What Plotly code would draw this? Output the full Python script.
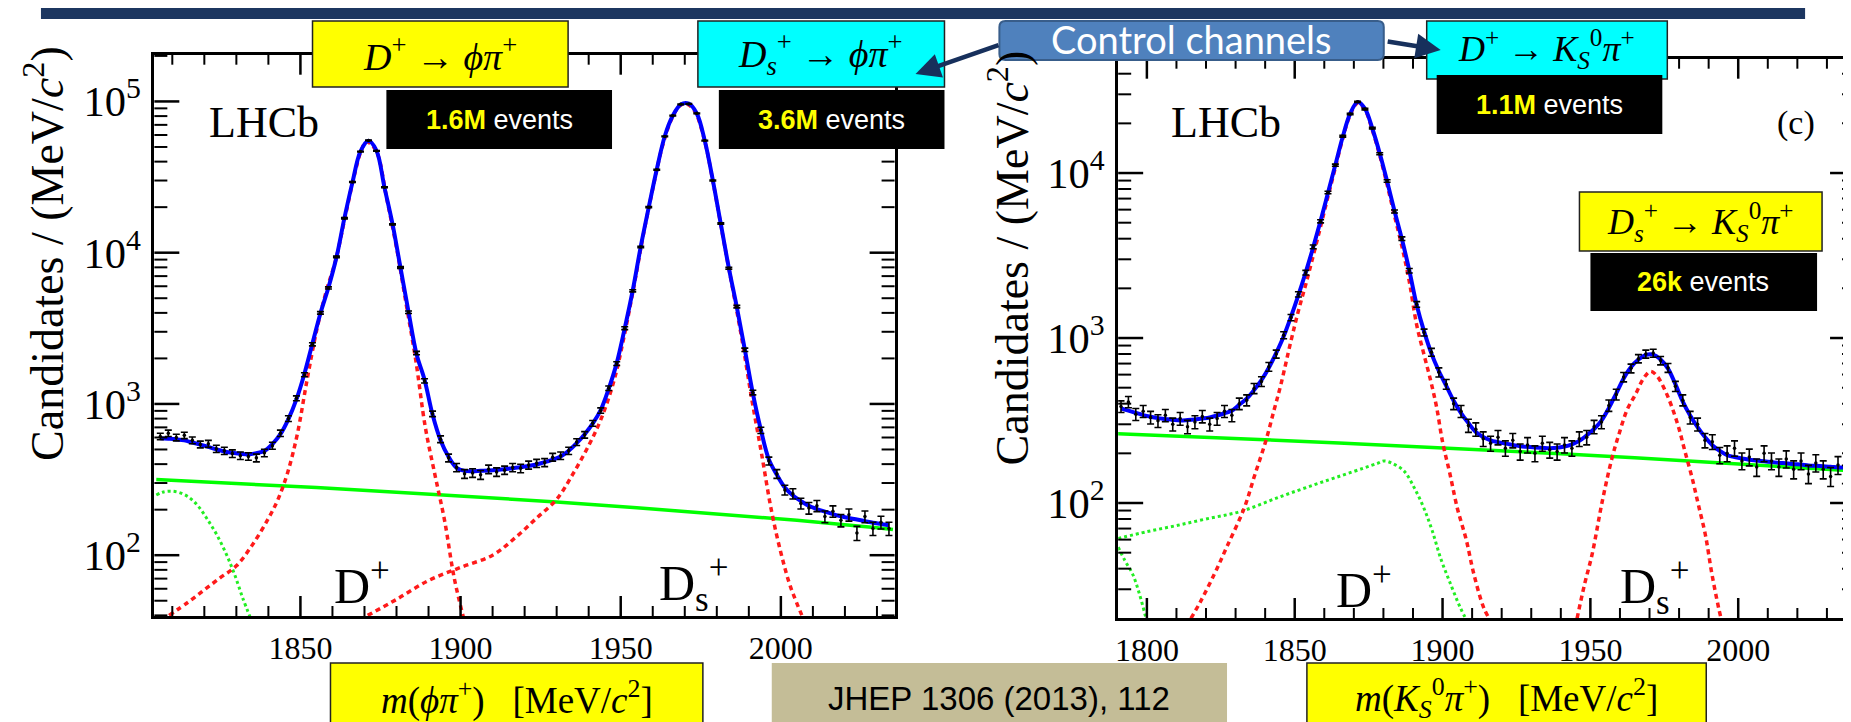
import math
import plotly.graph_objects as go

W, H = 1851, 722

# ---------------- LEFT PANEL : m(phi pi+) ----------------
left_lo, left_bw, left_nbins = 1805.0, 2.5, 92
left_counts = [610, 640, 600, 620, 575, 540, 545, 505, 490, 470,
               455, 450, 440, 475, 530, 640, 800, 1090, 1560, 2480,
               4000, 5850, 9400, 16900, 29300, 46600, 55200, 47100, 27100, 15400,
               7980, 4040, 2170, 1420, 860, 585, 440, 380, 345, 350,
               340, 370, 355, 365, 380, 375, 395, 405, 410, 445,
               455, 490, 560, 625, 745, 905, 1270, 1850, 3170, 5600,
               10900, 20000, 35400, 58700, 80500, 95700, 96300, 83400, 55100, 30000,
               15600, 7900, 4400, 2280, 1190, 670, 420, 345, 270, 255,
               220, 205, 212, 180, 195, 170, 185, 140, 180, 150,
               165, 150]
left_errors = [30, 31, 30, 30, 29, 28, 29, 28, 27, 27,
               26, 26, 26, 27, 28, 31, 35, 40, 48, 61,
               77, 94, 119, 159, 210, 264, 288, 266, 202, 152,
               109, 78, 57, 46, 36, 30, 26, 24, 23, 23,
               23, 24, 23, 23, 24, 24, 24, 25, 25, 26,
               26, 27, 29, 31, 33, 37, 44, 53, 69, 92,
               128, 173, 230, 297, 347, 379, 380, 354, 287, 212,
               153, 109, 81, 58, 42, 32, 25, 23, 20, 20,
               18, 18, 18, 16, 17, 16, 17, 15, 16, 15,
               16, 15]
left_total_fit = [594, 589, 583, 574, 556, 538, 520, 501, 485, 476,
                  468, 463, 473, 489, 543, 631, 794, 1072, 1585, 2512,
                  3981, 5890, 9330, 16980, 29170, 46770, 54950, 47300, 26900, 15490,
                  7940, 4070, 2140, 1445, 851, 575, 447, 378, 361, 359,
                  361, 363, 366, 370, 376, 382, 389, 398, 412, 429,
                  449, 490, 550, 631, 741, 912, 1259, 1862, 3162, 5623,
                  10960, 19950, 35480, 58880, 80350, 95500, 96600, 83180, 54950, 30200,
                  15490, 7940, 4365, 2290, 1175, 676, 430, 340, 280, 248,
                  228, 212, 202, 194, 187, 181, 176, 172, 168, 164,
                  161, 158]
left_comb_m = [1805, 1830, 1855, 1880, 1905, 1930, 1955, 1980, 2005, 2030, 2035]
left_comb_y = [316, 298, 280, 261, 243, 225, 206, 188, 170, 152, 148]
left_part_m = [1805, 1807, 1809.5, 1812, 1815, 1818, 1821, 1824, 1827, 1829.5, 1832, 1834.5]
left_part_y = [250, 261, 265, 260, 243, 212, 172, 135, 100, 74, 52, 38]
left_dp_m = [1809, 1815, 1820, 1825, 1830, 1835, 1840, 1843, 1846, 1849, 1852, 1855,
             1858, 1861, 1864, 1867, 1869, 1870.5, 1872, 1874, 1877, 1880, 1883,
             1886, 1889, 1892, 1895, 1898, 1901]
left_dp_y = [40, 49, 59, 71, 85, 117, 175, 234, 351, 627, 1413, 3020,
             5500, 8900, 17400, 33600, 47500, 54000, 52200, 45400, 22500, 10800, 4600,
             1950, 700, 340, 170, 71, 38]
left_ds_m = [1871, 1880, 1890, 1900, 1910, 1917, 1924, 1930, 1935, 1940, 1944, 1948,
             1951, 1954, 1957, 1960, 1963, 1966, 1968.5, 1970.5, 1973, 1976, 1979,
             1982, 1985, 1988, 1991, 1994, 1997, 2000, 2003, 2007.5]
left_ds_y = [40, 51, 68, 83, 100, 130, 178, 234, 342, 531, 808, 1450,
             2760, 5800, 12900, 26400, 50400, 77400, 93700, 96200, 86900, 57100, 28000,
             12500, 5700, 2560, 1050, 465, 200, 104, 62, 36]

# ---------------- RIGHT PANEL : m(KS pi+) ----------------
right_lo, right_bw, right_nbins = 1790.0, 2.5, 100
right_counts = [385, 410, 345, 360, 330, 315, 340, 300, 325, 290,
                310, 335, 300, 325, 360, 340, 400, 420, 495, 545,
                670, 800, 1040, 1330, 1840, 2490, 3570, 5100, 7620, 11150,
                16700, 22800, 27000, 24400, 18700, 13100, 8950, 5850, 4000, 2560,
                1600, 1080, 820, 620, 525, 400, 360, 295, 280, 245,
                230, 250, 215, 240, 205, 225, 200, 230, 210, 205,
                225, 215, 245, 250, 290, 310, 390, 455, 580, 655,
                750, 800, 810, 730, 660, 510, 420, 330, 300, 240,
                235, 195, 200, 215, 180, 190, 165, 200, 180, 165,
                185, 160, 180, 150, 175, 160, 145, 170, 150, 155]
right_errors = [31, 32, 29, 30, 29, 28, 29, 27, 29, 27,
                28, 29, 27, 29, 30, 29, 32, 32, 35, 37,
                41, 45, 51, 58, 68, 79, 94, 113, 138, 167,
                204, 239, 260, 247, 216, 181, 150, 121, 100, 80,
                63, 52, 45, 39, 36, 32, 30, 27, 26, 25,
                24, 25, 23, 24, 23, 24, 22, 24, 23, 23,
                24, 23, 25, 25, 27, 28, 31, 34, 38, 40,
                43, 45, 45, 43, 41, 36, 32, 29, 27, 24,
                24, 22, 22, 23, 21, 22, 20, 22, 21, 20,
                22, 20, 21, 19, 21, 20, 19, 21, 19, 20]
right_total_fit = [374, 363, 352, 341, 333, 327, 323, 319, 316, 318,
                   321, 325, 330, 339, 350, 363, 394, 429, 484, 556,
                   661, 813, 1023, 1349, 1820, 2512, 3548, 5129, 7586, 11220,
                   16600, 22900, 26900, 24550, 18620, 13180, 8910, 5890, 3981, 2570,
                   1585, 1096, 804, 631, 513, 417, 351, 305, 269, 251,
                   240, 234, 229, 225, 221, 219, 217, 216, 215, 216,
                   220, 227, 238, 257, 281, 316, 376, 462, 569, 668,
                   741, 791, 794, 741, 653, 525, 412, 339, 288, 251,
                   224, 207, 195, 190, 186, 183, 181, 179, 177, 175,
                   174, 172, 171, 169, 168, 167, 166, 164, 164, 163]
right_comb_m = [1790, 1815, 1840, 1865, 1890, 1915, 1940, 1965, 1990, 2015, 2040]
right_comb_y = [263, 253, 242, 231, 220, 210, 199, 188, 177, 167, 156]
right_part_m = [1790.3, 1800, 1810, 1820, 1831.8, 1845, 1856.6, 1866, 1873.4, 1878,
                1880.2, 1883, 1887, 1890.5, 1893.7, 1896.5, 1899.4, 1902.5, 1906.1, 1908.5]
right_part_y = [61, 67, 73, 80, 89, 109, 129, 147, 163, 174,
                180, 174, 156, 123, 93, 68, 46, 33, 23, 19]
right_part2_m = [1790.3, 1792.5, 1795.2, 1797.5, 1799.7]
right_part2_y = [54, 45, 37, 28, 20]
right_dp_m = [1814.9, 1818, 1822.8, 1827, 1832.9, 1836.5, 1840.2, 1843, 1845.3, 1848.7,
              1851.25, 1853.75, 1856.25, 1858.75, 1861.25, 1863.75, 1866.25, 1868.75,
              1871.25, 1873.75, 1876.25, 1878.75, 1881.25, 1883.75, 1886.25, 1888.75,
              1891.25, 1893.75, 1896, 1898, 1900, 1902.5, 1905, 1908, 1910.6, 1914, 1916.5]
right_dp_y = [20, 25, 37, 54, 93, 148, 237, 365, 521, 955,
              1460, 2120, 3150, 4730, 7190, 10800, 16200, 22500,
              26500, 24150, 18200, 12780, 8500, 5500, 3600, 2200,
              1200, 790, 550, 380, 235, 150, 93, 60, 37, 23, 19]
right_ds_m = [1945.5, 1948, 1950.6, 1954, 1957.3, 1959.6, 1962.5, 1965.2, 1968, 1970.3,
              1972.5, 1975.4, 1977.5, 1979.9, 1982, 1984.4, 1986.5, 1988.9, 1991, 1993.4, 1994.5]
right_ds_y = [20, 32, 49, 102, 187, 259, 370, 453, 570, 628,
              590, 475, 385, 285, 205, 142, 98, 64, 38, 23, 19]

x_tick_step = 50
x_minor_step = 10
left_xrange = [1804.4, 2035.5]
right_xrange = [1790.3, 2039.5]
left_logrange = [1.598, 5.309]
right_logrange = [1.303, 4.693]

left_m = [left_lo + left_bw * (i + 0.5) for i in range(left_nbins)]
right_m = [right_lo + right_bw * (i + 0.5) for i in range(right_nbins)]

GREEN = '#00ff00'
RED = '#ff1a1a'
BLUE = '#0000ff'

fig = go.Figure()


def add_panel(xa, ya, m, counts, errs, total, comb_m, comb_y, parts, dp_m, dp_y, ds_m, ds_y):
    fig.add_trace(go.Scatter(x=comb_m, y=comb_y, mode='lines', xaxis=xa, yaxis=ya,
                             line=dict(color=GREEN, width=3.5), hoverinfo='skip'))
    for pm, pyv in parts:
        fig.add_trace(go.Scatter(x=pm, y=pyv, mode='lines', xaxis=xa, yaxis=ya,
                                 line=dict(color='#22ee22', width=3, dash='3px,3px', shape='spline'),
                                 hoverinfo='skip'))
    for sm, sy in ((dp_m, dp_y), (ds_m, ds_y)):
        fig.add_trace(go.Scatter(x=sm, y=sy, mode='lines', xaxis=xa, yaxis=ya,
                                 line=dict(color=RED, width=3.5, dash='5px,4px', shape='spline'),
                                 hoverinfo='skip'))
    fig.add_trace(go.Scatter(x=m, y=total, mode='lines', xaxis=xa, yaxis=ya,
                             line=dict(color=BLUE, width=4, shape='spline'), hoverinfo='skip'))
    fig.add_trace(go.Scatter(x=m, y=counts, mode='markers', xaxis=xa, yaxis=ya,
                             marker=dict(color='black', size=3.5),
                             error_y=dict(type='data', array=errs, color='black', thickness=1.6, width=3.5)))


add_panel('x', 'y', left_m, left_counts, left_errors, left_total_fit, left_comb_m, left_comb_y,
          [(left_part_m, left_part_y)], left_dp_m, left_dp_y, left_ds_m, left_ds_y)
add_panel('x2', 'y2', right_m, right_counts, right_errors, right_total_fit, right_comb_m, right_comb_y,
          [(right_part_m, right_part_y), (right_part2_m, right_part2_y)],
          right_dp_m, right_dp_y, right_ds_m, right_ds_y)

SERIF = 'Liberation Serif'
SANS = 'Liberation Sans'


def xaxis(domain, rng, anchor):
    return dict(domain=domain, range=rng, anchor=anchor, showgrid=False, zeroline=False,
                showline=True, linecolor='black', linewidth=2.5, mirror=True, ticks='',
                tickmode='linear', tick0=1800, dtick=x_tick_step, ticklabelstandoff=2,
                tickfont=dict(family=SERIF, size=32, color='black'))


def yaxis(domain, rng, anchor):
    return dict(domain=domain, range=rng, anchor=anchor, type='log', showgrid=False, zeroline=False,
                showline=True, linecolor='black', linewidth=2.5, mirror=True, ticks='',
                tickmode='linear', tick0=0, dtick=1, exponentformat='power', ticklabelstandoff=4,
                tickfont=dict(family=SERIF, size=34, color='black'))


def dom_x(a, b):
    return [a / W, b / W]


def dom_y(top, bottom):
    return [1 - bottom / H, 1 - top / H]


def px(x):
    return x / W


def py(y):
    return 1 - y / H


LEFT_BOX = (143.6, 46.7, 885, 608)
RIGHT_BOX = (1109, 50.7, 1847, 610)

shapes = []


def seg(x0, y0, x1, y1, w):
    shapes.append(dict(type='line', xref='paper', yref='paper', layer='above',
                       x0=px(x0), y0=py(y0), x1=px(x1), y1=py(y1),
                       line=dict(color='black', width=w)))


# ROOT-style ticks, inside, on all four sides of each frame
def frame_ticks(box, xrng, logrng):
    L, T, R, B = box
    pw, ph = R - L, B - T
    m = 1800
    while m <= xrng[1]:
        if m >= xrng[0]:
            xx = L + (m - xrng[0]) / (xrng[1] - xrng[0]) * pw
            ln = 20 if m % x_tick_step == 0 else 10
            w = 2.5 if ln == 20 else 2
            seg(xx, B, xx, B - ln, w)
            seg(xx, T, xx, T + ln, w)
        m += x_minor_step
    for dec in range(0, 7):
        for k in range(1, 10):
            lv = math.log10(k * 10 ** dec)
            if logrng[0] <= lv <= logrng[1]:
                yy = B - (lv - logrng[0]) / (logrng[1] - logrng[0]) * ph
                ln = 25 if k == 1 else 13
                w = 2.5 if k == 1 else 2
                seg(L, yy, L + ln, yy, w)
                seg(R, yy, R - ln, yy, w)


frame_ticks(LEFT_BOX, left_xrange, left_logrange)
frame_ticks(RIGHT_BOX, right_xrange, right_logrange)


def box(x0, y0, x1, y1, fill, line=None, lw=0):
    shapes.append(dict(type='rect', xref='paper', yref='paper', layer='above',
                       x0=px(x0), x1=px(x1), y0=py(y1), y1=py(y0), fillcolor=fill,
                       line=dict(color=line if line else fill, width=lw)))


box(30, 0, 1797, 11, '#1c3660')
box(302, 13, 558, 79, '#ffff00', '#222222', 1.5)
box(376, 82, 602, 141, '#000000')
box(688, 13, 935, 79, '#00ffff', '#222222', 1.5)
box(709, 82, 935, 141, '#000000')
box(1418, 13, 1659, 71, '#00ffff', '#222222', 1.5)
box(1428, 67, 1654, 126, '#000000')
box(1571, 184, 1814, 243, '#ffff00', '#222222', 1.5)
box(1582, 245, 1809, 303, '#000000')
box(320, 655, 693, 722, '#ffff00', '#222222', 1.5)
box(762, 655, 1218, 722, '#c4bd97')
box(1298, 655, 1698, 722, '#ffff00', '#222222', 1.5)

# rounded "Control channels" button
cx0, cy0, cx1, cy1, r = 990, 13, 1375, 52, 6
path = (f"M {px(cx0 + r)},{py(cy0)} L {px(cx1 - r)},{py(cy0)} Q {px(cx1)},{py(cy0)} {px(cx1)},{py(cy0 + r)} "
        f"L {px(cx1)},{py(cy1 - r)} Q {px(cx1)},{py(cy1)} {px(cx1 - r)},{py(cy1)} "
        f"L {px(cx0 + r)},{py(cy1)} Q {px(cx0)},{py(cy1)} {px(cx0)},{py(cy1 - r)} "
        f"L {px(cx0)},{py(cy0 + r)} Q {px(cx0)},{py(cy0)} {px(cx0 + r)},{py(cy0)} Z")
shapes.append(dict(type='path', xref='paper', yref='paper', layer='above', path=path,
                   fillcolor='#4f81bd', line=dict(color='#385d8a', width=2)))

ann = []


def txt(x, y, text, size, family=SERIF, color='black', angle=0):
    ann.append(dict(x=px(x), y=py(y), xref='paper', yref='paper', text=text, showarrow=False,
                    font=dict(family=family, size=size, color=color), xanchor='center',
                    yanchor='middle', textangle=angle))


def events(x, y, num):
    txt(x, y, f"<b><span style='color:#ffff00'>{num}</span></b> events", 27, SANS, 'white')


txt(430, 46, "<i>D</i><sup>+</sup> → <i>ϕπ</i><sup>+</sup>", 38)
events(489, 112, '1.6M')
txt(811, 46, "<i>D</i><sub><i>s</i></sub><sup>+</sup> → <i>ϕπ</i><sup>+</sup>", 38)
events(822, 112, '3.6M')
txt(1182, 31, "Control channels", 38, 'Lato', 'white')
txt(1538, 41, "<i>D</i><sup>+</sup> → <i>K</i><sub><i>S</i></sub><sup>0</sup><i>π</i><sup>+</sup>", 36)
events(1541, 97, '1.1M')
txt(1692, 214, "<i>D</i><sub><i>s</i></sub><sup>+</sup> → <i>K</i><sub><i>S</i></sub><sup>0</sup><i>π</i><sup>+</sup>", 36)
events(1695, 274, '26k')
txt(1788, 115, "(c)", 34)
txt(253, 114, "LHCb", 44)
txt(1217, 114, "LHCb", 44)
txt(352, 574, "D<sup>+</sup>", 50)
txt(684, 575, "D<sub>s</sub><sup>+</sup>", 50)
txt(1355, 578, "D<sup>+</sup>", 50)
txt(1646, 578, "D<sub>s</sub><sup>+</sup>", 50)
txt(507, 690, "<i>m</i>(<i>ϕπ</i><sup>+</sup>)&nbsp;&nbsp;&nbsp;[MeV/<i>c</i><sup>2</sup>]", 37)
txt(1498, 690, "<i>m</i>(<i>K</i><sub><i>S</i></sub><sup>0</sup><i>π</i><sup>+</sup>)&nbsp;&nbsp;&nbsp;[MeV/<i>c</i><sup>2</sup>]", 37)
txt(990, 690, "JHEP 1306 (2013), 112", 33, SANS, 'black')
txt(33, 245, "Candidates / (MeV/<i>c</i><sup>2</sup>)", 46, angle=-90)
txt(999, 250, "Candidates / (MeV/<i>c</i><sup>2</sup>)", 46, angle=-90)

# arrows from "Control channels"
for tip, tail in (((906, 66), (992, 36)), ((1432, 42), (1376, 33))):
    ann.append(dict(x=px(tip[0]), y=py(tip[1]), xref='paper', yref='paper', text=' ',
                    showarrow=True, ax=tail[0] - tip[0], ay=tail[1] - tip[1],
                    arrowhead=2, arrowsize=1.1, arrowwidth=4.5, arrowcolor='#17305c', standoff=0))

fig.update_layout(
    width=W, height=H, margin=dict(l=0, r=0, t=0, b=0),
    paper_bgcolor='white', plot_bgcolor='white', showlegend=False,
    xaxis=xaxis(dom_x(LEFT_BOX[0], LEFT_BOX[2]), left_xrange, 'y'),
    yaxis=yaxis(dom_y(LEFT_BOX[1], LEFT_BOX[3]), left_logrange, 'x'),
    xaxis2=xaxis(dom_x(RIGHT_BOX[0], RIGHT_BOX[2]), right_xrange, 'y2'),
    yaxis2=yaxis(dom_y(RIGHT_BOX[1], RIGHT_BOX[3]), right_logrange, 'x2'),
    shapes=shapes, annotations=ann,
)

fig.write_html("out.html")
